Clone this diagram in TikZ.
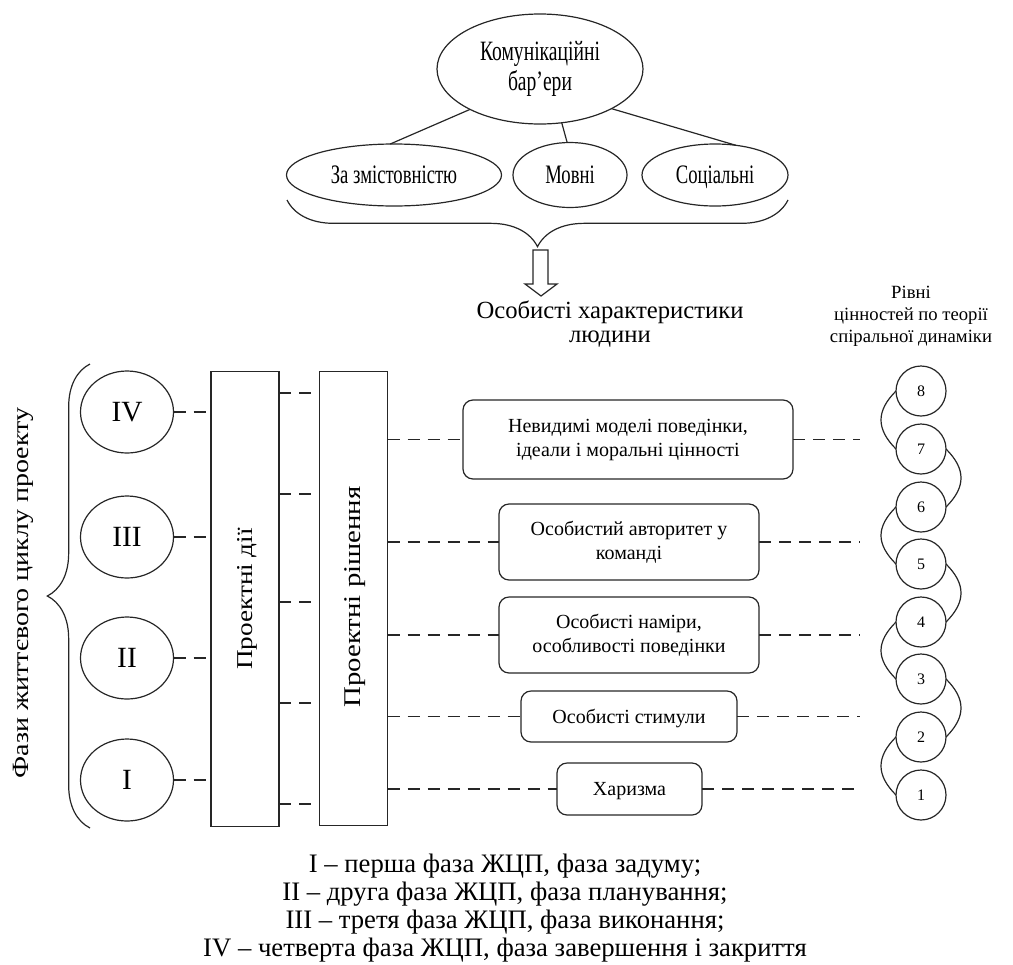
\documentclass[tikz,border=0pt]{standalone}
\usepackage{fontspec}
\setmainfont{Liberation Serif}
\newfontfamily\cond[FakeStretch=0.7]{Liberation Serif}
\newfontfamily\wide[FakeStretch=1.2]{Liberation Serif}
\usetikzlibrary{shapes.geometric,decorations.pathreplacing}
\begin{document}
\begin{tikzpicture}[x=0.75pt,y=-0.75pt,
  every node/.style={inner sep=0pt, outer sep=0pt},
  ln/.style={line width=0.9pt, draw=black!85},
  dsh/.style={ln, dash pattern=on 9pt off 6pt},
  ell/.style={ellipse, ln, draw},
  rom/.style={ell, text height=14.5pt, text depth=0pt, minimum width=69.75pt, minimum height=61.5pt, font=\fontsize{22}{24}\selectfont},
  tall/.style={rectangle, ln, draw, minimum width=51pt, minimum height=341pt},
  box/.style={rectangle, rounded corners=7.5pt, ln, draw, align=center, font=\fontsize{15}{18}\selectfont},
  one/.style={text height=10pt, text depth=0pt},
  lvl/.style={circle, ln, draw, text height=8pt, text depth=0pt, minimum size=37.5pt, font=\fontsize{12}{14}\selectfont},
  brc/.style={ln, decorate, decoration={brace, amplitude=#1}},
  top/.style={ell, text height=13.2pt, text depth=0pt, font=\cond\fontsize{20}{22}\selectfont},
  vtxt/.style={rotate=90, font=\wide\fontsize{#1}{18}\selectfont}
]
\useasboundingbox (0,0) rectangle (1013,964);

% top part
\node[ell, minimum width=154.5pt, minimum height=82.5pt, align=center,
      font=\cond\fontsize{21}{22.5}\selectfont] (kb) at (540,69) {Комунікаційні\\бар’ери};
\node[top, minimum width=161.25pt, minimum height=46.5pt] (zm) at (394,175) {За змістовністю};
\node[top, minimum width=85.5pt, minimum height=48.75pt] (mv) at (570,175) {Мовні};
\node[top, minimum width=109.5pt, minimum height=46.5pt] (sc) at (715,175) {Соціальні};
\draw[ln] (kb.210) -- (zm.97);
\draw[ln] (kb.-68) -- (mv.95);
\draw[ln] (kb.-29) -- (sc.55);

\draw[brc=35pt] (788,200) -- (287,200);
\draw[ln, fill=white] (533,250) -- (548,250) -- (548,284) -- (557,284) -- (541,296)
  -- (525,284) -- (533,284) -- cycle;

\node[align=center, font=\fontsize{18.5}{17.5}\selectfont] (och) at (610,324)
  {Особисті характеристики\\людини};
\node[align=center, font=\fontsize{14}{16.5}\selectfont] (rl) at (911,316)
  {Рівні\\цінностей по теорії\\спіральної динаміки};

% left part
\draw[brc=32pt] (90,828) -- (90,364);
\node[vtxt=17.5] (fz) at (23,593) {Фази життєвого циклу проекту};

\node[rom] (r4) at (127,412) {IV};
\node[rom] (r3) at (127,537) {III};
\node[rom] (r2) at (127,658) {II};
\node[rom] (r1) at (127,780) {I};

\node[tall] (pd) at (245,599) {};
\node[tall] (pr) at (353.5,598.5) {};
\node[vtxt=17] (pdt) at (247,599) {Проектні дії};
\node[vtxt=18] (prt) at (355,597) {Проектні рішення};

\foreach \i in {1,...,4} \draw[dsh] (r\i.east) -- (r\i.east -| pd.west);
\foreach \y [count=\k] in {393,494,602,703,804} {
  \coordinate (m\k) at (300,\y);
  \draw[dsh] (pd.east |- m\k) -- (pr.west |- m\k);
}

% boxes
\node[box, minimum width=247.5pt, minimum height=59.25pt] (b1) at (628,439.5)
  {Невидимі моделі поведінки,\\ідеали і моральні цінності};
\node[box, minimum width=195pt, minimum height=57pt] (b2) at (629,542)
  {Особистий авторитет у\\команді};
\node[box, minimum width=195pt, minimum height=57pt] (b3) at (629,635)
  {Особисті наміри,\\особливості поведінки};
\node[box, one, minimum width=162pt, minimum height=38.25pt] (b4) at (629,716.5) {Особисті стимули};
\node[box, one, minimum width=108.75pt, minimum height=39pt] (b5) at (629.5,789) {Харизма};

\coordinate (rend) at (860,0);
\foreach \b in {b1,b2,b3,b4,b5} {
  \draw[dsh] (pr.east |- \b.west) -- (\b.west);
  \draw[dsh] (\b.east) -- (\b.east -| rend);
}

% spiral levels
\foreach \n/\y in {8/391,7/449,6/507,5/564,4/622,3/679,2/737,1/795}
  \node[lvl] (c\n) at (921,\y) {\n};
\foreach \a/\b in {8/7,6/5,4/3,2/1}
  \draw[ln] (c\a.west) .. controls +(-20,20) and +(-20,-20) .. (c\b.west);
\foreach \a/\b in {7/6,5/4,3/2}
  \draw[ln] (c\a.east) .. controls +(20,20) and +(20,-20) .. (c\b.east);

% legend
\node[align=center, font=\fontsize{20}{21}\selectfont] (leg) at (505,908)
  {I – перша фаза ЖЦП, фаза задуму;\\II – друга фаза ЖЦП, фаза планування;\\III – третя фаза ЖЦП, фаза виконання;\\IV – четверта фаза ЖЦП, фаза завершення і закриття};
\end{tikzpicture}
\end{document}
